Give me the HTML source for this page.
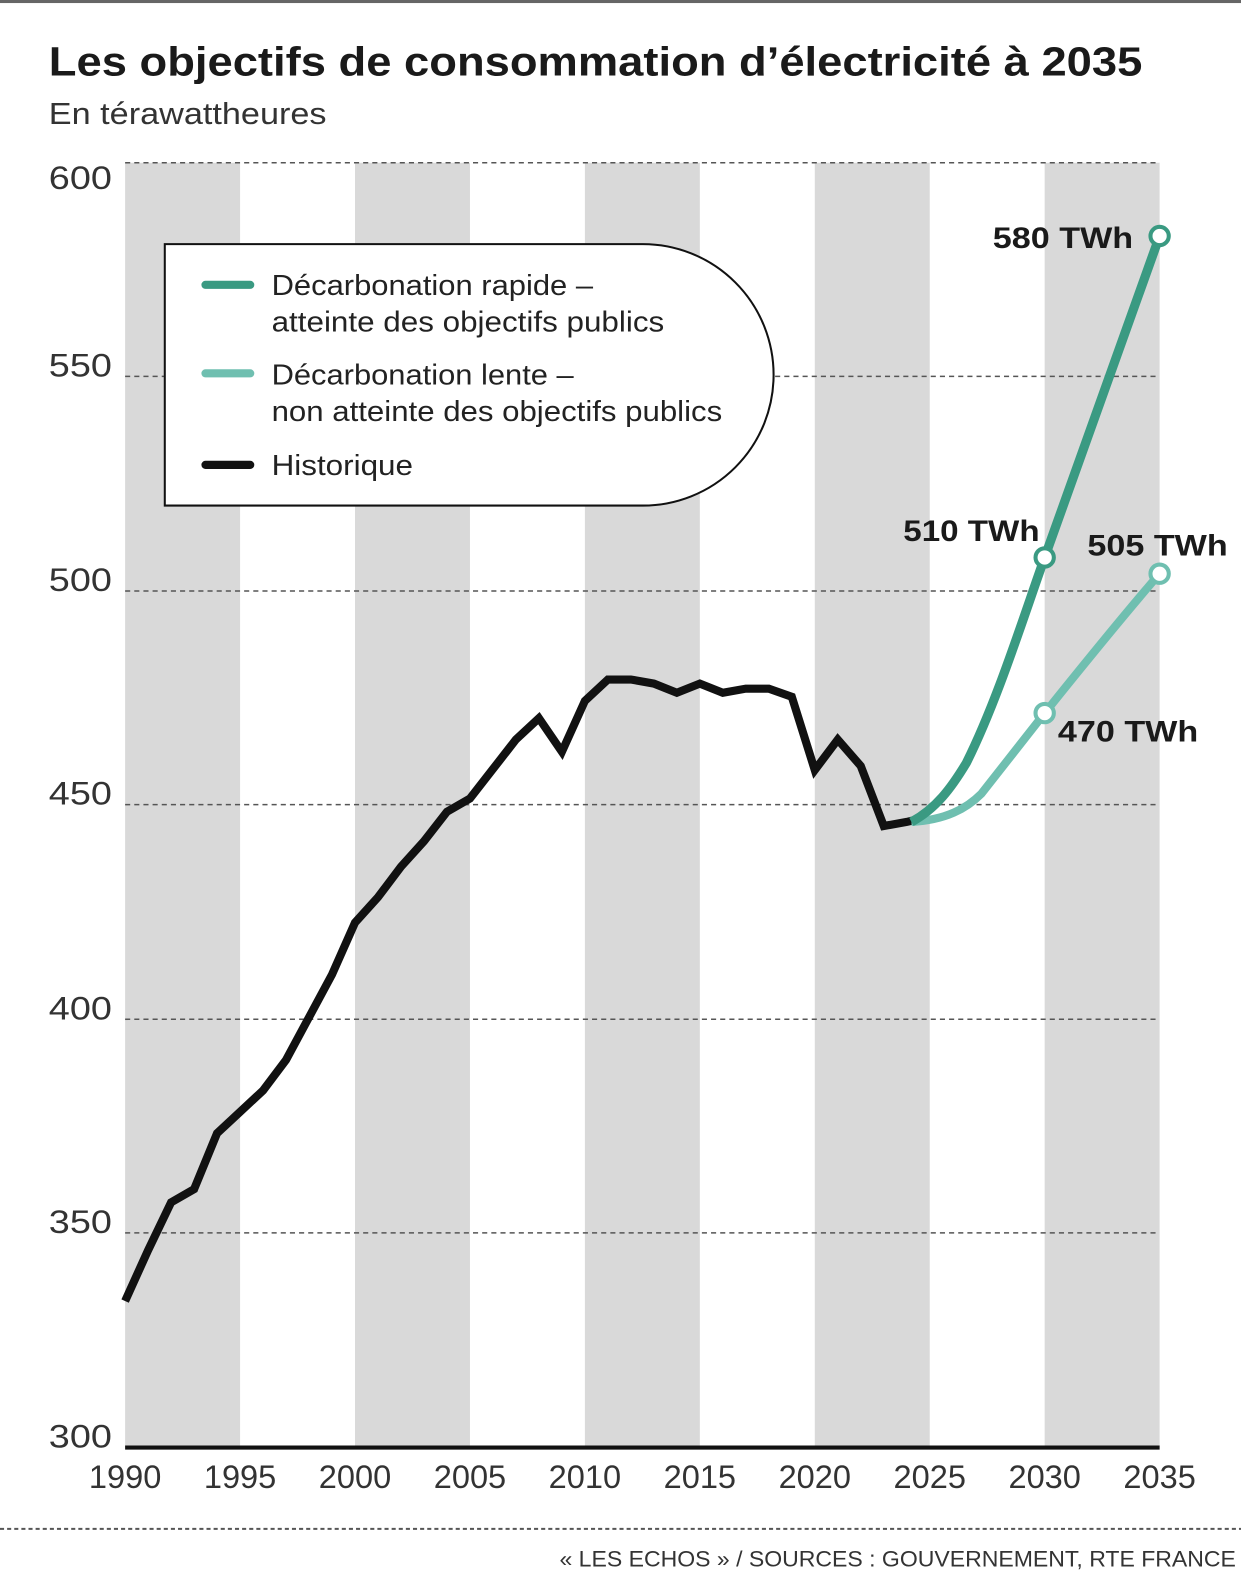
<!DOCTYPE html>
<html><head><meta charset="utf-8"><style>
html,body{margin:0;padding:0;background:#fff;}
svg{display:block;}
text{font-family:"Liberation Sans",sans-serif;}
</style></head><body>
<svg width="1241" height="1593" viewBox="0 0 1220 1566" preserveAspectRatio="none" xmlns="http://www.w3.org/2000/svg">
<rect x="0" y="0" width="1220" height="3" fill="#666"/>
<text x="48" y="74" font-size="40" font-weight="bold" fill="#1a1a1a" textLength="1075" lengthAdjust="spacingAndGlyphs">Les objectifs de consommation d’électricité à 2035</text>
<text x="48" y="122" font-size="30" fill="#333" textLength="273" lengthAdjust="spacingAndGlyphs">En térawattheures</text>
<g fill="#d9d9d9">
<rect x="123" y="160" width="113" height="1263"/>
<rect x="349" y="160" width="113" height="1263"/>
<rect x="575" y="160" width="113" height="1263"/>
<rect x="801" y="160" width="113" height="1263"/>
<rect x="1027" y="160" width="113" height="1263"/>
</g>
<g stroke="#555" stroke-width="1.5" stroke-dasharray="5,4">
<line x1="123" y1="160" x2="1140" y2="160"/>
<line x1="123" y1="370" x2="1140" y2="370"/>
<line x1="123" y1="581" x2="1140" y2="581"/>
<line x1="123" y1="791" x2="1140" y2="791"/>
<line x1="123" y1="1002" x2="1140" y2="1002"/>
<line x1="123" y1="1212" x2="1140" y2="1212"/>
</g>
<line x1="123" y1="1423" x2="1140" y2="1423" stroke="#111" stroke-width="4"/>
<g font-size="32" fill="#333">
<text x="48" y="186" textLength="62" lengthAdjust="spacingAndGlyphs">600</text>
<text x="48" y="370" textLength="62" lengthAdjust="spacingAndGlyphs">550</text>
<text x="48" y="581" textLength="62" lengthAdjust="spacingAndGlyphs">500</text>
<text x="48" y="791" textLength="62" lengthAdjust="spacingAndGlyphs">450</text>
<text x="48" y="1002" textLength="62" lengthAdjust="spacingAndGlyphs">400</text>
<text x="48" y="1212" textLength="62" lengthAdjust="spacingAndGlyphs">350</text>
<text x="48" y="1423" textLength="62" lengthAdjust="spacingAndGlyphs">300</text>
</g>
<g font-size="32" fill="#333" text-anchor="middle">
<text x="123" y="1463">1990</text><text x="236" y="1463">1995</text><text x="349" y="1463">2000</text>
<text x="462" y="1463">2005</text><text x="575" y="1463">2010</text><text x="688" y="1463">2015</text>
<text x="801" y="1463">2020</text><text x="914" y="1463">2025</text><text x="1027" y="1463">2030</text>
<text x="1140" y="1463">2035</text>
</g>
<path d="M162,240 H632 A128.5,128.5 0 0 1 632,497 H162 Z" fill="#fff" stroke="#111" stroke-width="2"/>
<g stroke-width="8" stroke-linecap="round">
<line x1="202" y1="280" x2="246" y2="280" stroke="#3a9a82"/>
<line x1="202" y1="367" x2="246" y2="367" stroke="#6fbfb0"/>
<line x1="202" y1="457" x2="246" y2="457" stroke="#111"/>
</g>
<g font-size="28" fill="#222" lengthAdjust="spacingAndGlyphs">
<text x="267" y="290" textLength="316" lengthAdjust="spacingAndGlyphs">Décarbonation rapide –</text>
<text x="267" y="326" textLength="386" lengthAdjust="spacingAndGlyphs">atteinte des objectifs publics</text>
<text x="267" y="378" textLength="297" lengthAdjust="spacingAndGlyphs">Décarbonation lente –</text>
<text x="267" y="414" textLength="443" lengthAdjust="spacingAndGlyphs">non atteinte des objectifs publics</text>
<text x="267" y="467" textLength="139" lengthAdjust="spacingAndGlyphs">Historique</text>
</g>
<polyline fill="none" stroke="#111" stroke-width="8" stroke-linejoin="miter" points="123,1279 145.6,1229 168.2,1182 190.8,1169 213.4,1114 236,1093 258.6,1072 281.2,1042 303.8,1000 326.4,958 349,907 371.6,882 394.2,852 416.8,827 439.4,798 462,785 484.6,756 507.2,727 529.8,706 552.4,739 575,689 597.6,668 620.2,668 642.8,672 665.4,681 688,672 710.6,681 733.2,677 755.8,677 778.4,685 801,757 823.6,727 846.2,753 868.8,812 891.4,808 900,806"/>
<path d="M896,808 C930,806 950,795 965,780 L1027,701 C1060,660 1100,610 1140,564" fill="none" stroke="#6fbfb0" stroke-width="8"/>
<path d="M896,808 C920,795 935,775 950,750 C980,690 1005,610 1027,548 L1140,232" fill="none" stroke="#3a9a82" stroke-width="9"/>
<g fill="#fff" stroke-width="4">
<circle cx="1140" cy="232" r="9" stroke="#3a9a82"/>
<circle cx="1027" cy="548" r="9" stroke="#3a9a82"/>
<circle cx="1140" cy="564" r="9" stroke="#6fbfb0"/>
<circle cx="1027" cy="701" r="9" stroke="#6fbfb0"/>
</g>
<g font-size="29" font-weight="bold" fill="#1a1a1a">
<text x="976" y="244" textLength="138" lengthAdjust="spacingAndGlyphs">580 TWh</text>
<text x="888" y="532" textLength="134" lengthAdjust="spacingAndGlyphs">510 TWh</text>
<text x="1069" y="546" textLength="138" lengthAdjust="spacingAndGlyphs">505 TWh</text>
<text x="1040" y="729" textLength="138" lengthAdjust="spacingAndGlyphs">470 TWh</text>
</g>
<line x1="0" y1="1503" x2="1220" y2="1503" stroke="#555" stroke-width="2" stroke-dasharray="4,3"/>
<text x="1215" y="1540" font-size="22" fill="#333" text-anchor="end" textLength="665" lengthAdjust="spacingAndGlyphs">« LES ECHOS » / SOURCES : GOUVERNEMENT, RTE FRANCE</text>
</svg>
</body></html>
